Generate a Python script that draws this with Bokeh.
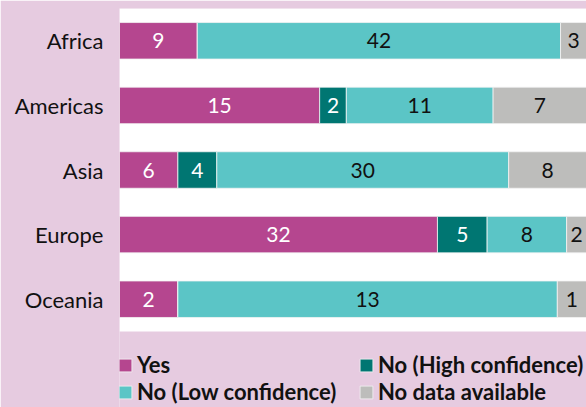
import numpy as np
from bokeh.plotting import figure
from bokeh.models import (ColumnDataSource, Legend, LegendItem, Range1d,
                          FixedTicker, BoxAnnotation)
from bokeh.core.properties import value
from bokeh.embed import file_html
from bokeh.resources import INLINE

regions = ["Africa", "Americas", "Asia", "Europe", "Oceania"]
series = ["Yes", "No (High confidence)", "No (Low confidence)", "No data available"]
yes = [9, 15, 6, 32, 2]
no_high = [0, 2, 4, 5, 0]
no_low = [42, 11, 30, 8, 13]
no_data = [3, 7, 8, 2, 1]

colors = ["#b5468f", "#007672", "#5bc5c6", "#bdbdbb"]
label_colors = ["white", "white", "#111111", "#111111"]
BG = "#e6cbe0"
FONT = "Lato"

counts = np.array([yes, no_high, no_low, no_data], dtype=float)
totals = counts.sum(axis=0)
pct = counts / totals * 100.0
lefts = np.vstack([np.zeros(len(regions)), np.cumsum(pct, axis=0)[:-1]])
n = len(regions)
ypos = np.arange(n)[::-1]          # Africa at the top

p = figure(width=586, height=407, output_backend="svg", toolbar_location=None,
           x_range=Range1d(0, 100), y_range=Range1d(-1.676, n - 0.5),
           min_border_left=119, min_border_right=0, min_border_top=8, min_border_bottom=0)
p.background_fill_color = BG
p.border_fill_color = BG
p.outline_line_color = None
p.grid.visible = False
p.xaxis.visible = False
p.yaxis.ticker = FixedTicker(ticks=list(range(n)))
p.yaxis.major_label_overrides = {int(y): r for y, r in zip(ypos, regions)}
p.yaxis.axis_line_color = None
p.yaxis.major_tick_line_color = None
p.yaxis.minor_tick_line_color = None
p.yaxis.major_tick_out = 0
p.yaxis.major_tick_in = 0
p.yaxis.major_label_text_font = FONT
p.yaxis.major_label_text_font_size = "22px"
p.yaxis.major_label_text_color = "#111111"
p.yaxis.major_label_standoff = 16

# white plot area behind the bars
p.add_layout(BoxAnnotation(left=0, right=100, bottom=-0.5, top=n - 0.5,
                           fill_color="white", fill_alpha=1, line_color=None,
                           level="underlay"))

renderers = {}
for i, name in enumerate(series):
    src = ColumnDataSource(dict(
        y=ypos, left=lefts[i], right=lefts[i] + pct[i],
        mid=lefts[i] + pct[i] / 2,
        lab=[str(int(v)) if v > 0 else "" for v in counts[i]],
    ))
    r = p.hbar(y="y", left="left", right="right", height=0.565, source=src,
               fill_color=colors[i], line_color="#f4f4f4", line_width=0.8)
    p.text(x="mid", y="y", text="lab", source=src, text_align="center",
           text_baseline="middle", text_font=value(FONT), text_font_size="21px",
           text_color=label_colors[i])
    renderers[name] = r

legend_style = dict(orientation="horizontal", background_fill_alpha=0,
                    border_line_color=None, label_text_font=FONT,
                    label_text_font_size="22px", label_text_font_style="bold",
                    label_text_color="#111111", glyph_width=16, glyph_height=16,
                    label_standoff=4, label_width=217, label_height=14,
                    spacing=4, padding=0, margin=0)
legend1 = Legend(items=[LegendItem(label=series[0], renderers=[renderers[series[0]]]),
                        LegendItem(label=series[1], renderers=[renderers[series[1]]])],
                 location=(-2, 29), **legend_style)
legend2 = Legend(items=[LegendItem(label=series[2], renderers=[renderers[series[2]]]),
                        LegendItem(label=series[3], renderers=[renderers[series[3]]])],
                 location=(-2, 2), **legend_style)
p.add_layout(legend1, "center")
p.add_layout(legend2, "center")

open("out.html", "w").write(file_html(p, INLINE))
